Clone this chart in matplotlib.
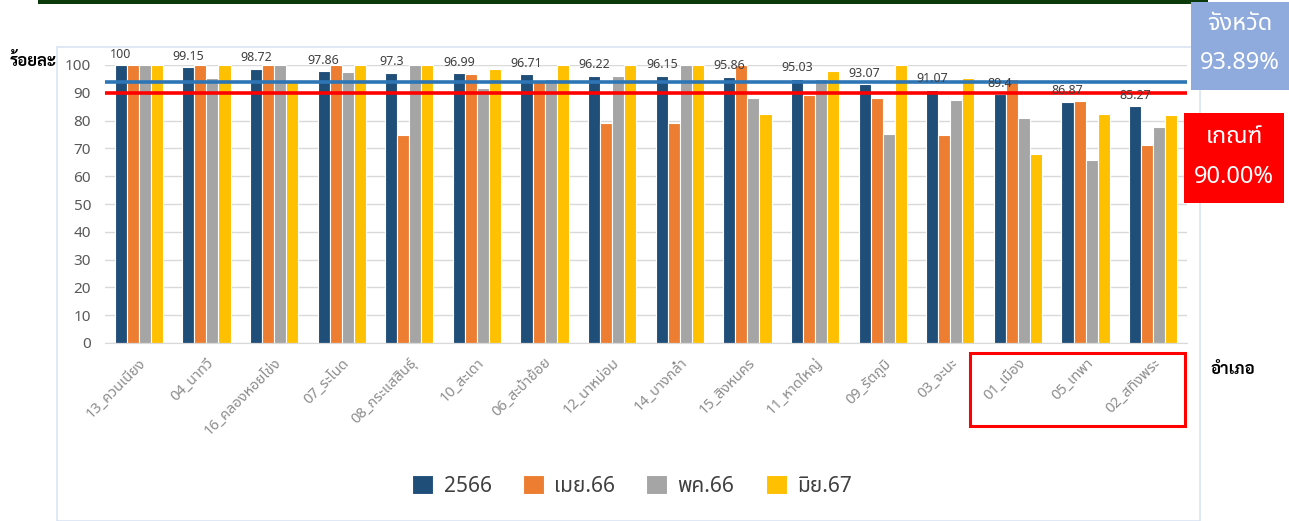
import matplotlib
matplotlib.use("Agg")
import matplotlib.pyplot as plt
import numpy as np
from matplotlib.patches import Rectangle

plt.rcParams['font.family'] = ['Noto Sans Thai', 'DejaVu Sans']

districts = ['13_ควนเนียง', '04_นาทวี', '16_คลองหอยโข่ง', '07_ระโนด', '08_กระแสสินธุ์',
             '10_สะเดา', '06_สะบ้าย้อย', '12_นาหม่อม', '14_บางกล่ำ', '15_สิงหนคร',
             '11_หาดใหญ่', '09_รัตภูมิ', '03_จะนะ', '01_เมือง', '05_เทพา', '02_สทิงพระ']
y2566 = [100, 99.15, 98.72, 97.86, 97.3, 96.99, 96.71, 96.22, 96.15, 95.86,
         95.03, 93.07, 91.07, 89.4, 86.87, 85.27]
apr66 = [100, 100, 100, 100, 74.8, 96.9, 94.6, 79.0, 79.0, 100,
         89.2, 88.3, 74.8, 95.0, 86.9, 71.2]
may66 = [100, 95.3, 100, 97.4, 100, 91.8, 95.1, 96.2, 100, 88.0,
         95.0, 75.3, 87.4, 80.8, 65.8, 77.7]
jun67 = [100, 100, 94.6, 100, 100, 98.7, 100, 100, 100, 82.5,
         97.8, 100, 95.4, 68.1, 82.5, 81.9]
series_names = ['2566', 'เมย.66', 'พค.66', 'มิย.67']
province_avg = 93.89
target = 90.00

colors = ['#1f4e79', '#ed7d31', '#a5a5a5', '#ffc000']
bold_thai = ['Sarabun', 'Noto Sans Thai', 'DejaVu Sans']

fig = plt.figure(figsize=(12.89, 5.21), dpi=100)

# frame of the chart area and the dark strip on top
fig.patches.append(Rectangle((57 / 1289, 0), 1143 / 1289, 474 / 521, transform=fig.transFigure,
                             facecolor='none', edgecolor='#dae3f3', lw=1.2))
fig.patches.append(Rectangle((38 / 1289, 1 - 4 / 521), 1170 / 1289, 4 / 521,
                             transform=fig.transFigure, facecolor='#0b3a0b', edgecolor='none'))

ax = fig.add_axes([105 / 1289, 1 - 343 / 521, 1082 / 1289, 278 / 521])
ax.set_facecolor('none')

x = np.arange(len(districts))
w = 0.178
for i, (vals, col, name) in enumerate(zip([y2566, apr66, may66, jun67], colors, series_names)):
    ax.bar(x + (i - 1.5) * w, vals, w, color=col, edgecolor='white', linewidth=0.8,
           label=name, zorder=2)

for xi, v in zip(x, y2566):
    ax.text(xi - 1.5 * w, v + 1.6, f'{v:g}', ha='center', va='bottom', fontsize=9,
            color='#404040', clip_on=False, zorder=4)

ax.axhline(province_avg, color='#2e75b6', lw=2.6, zorder=3)
ax.axhline(target, color='#ff0000', lw=2.6, zorder=3)

ax.set_xlim(-0.5, len(districts) - 0.5)
ax.set_ylim(0, 100)
ax.set_yticks(np.arange(0, 101, 10))
ax.yaxis.grid(True, color='#d9d9d9', lw=1, zorder=0)
ax.set_axisbelow(True)
for s in ['top', 'right', 'left']:
    ax.spines[s].set_visible(False)
ax.spines['bottom'].set_color('#d9d9d9')
ax.tick_params(axis='y', length=0, pad=10, labelsize=11, labelcolor='#595959')
ax.tick_params(axis='x', length=0, pad=9, labelsize=10.5, labelcolor='#8c8c8c')
ax.set_xticks(x)
ax.set_xticklabels(districts, rotation=45, ha='right', rotation_mode='anchor')

fig.text(10 / 1289, 1 - 62 / 521, 'ร้อยละ', fontsize=12, fontweight='bold', va='center',
         family=bold_thai)
fig.text(1210 / 1289, 1 - 370 / 521, 'อำเภอ', fontsize=12, fontweight='bold', va='center',
         family=bold_thai)

# highlighted districts
fig.patches.append(Rectangle((970 / 1289, 1 - 426 / 521), 215 / 1289, 73 / 521,
                             transform=fig.transFigure, fill=False, edgecolor='#ff0000', lw=2.2))

# province average and target boxes
fig.patches.append(Rectangle((1191 / 1289, 1 - 90 / 521), 98 / 1289, 88 / 521,
                             transform=fig.transFigure, facecolor='#8faadc', edgecolor='none'))
fig.text(1240 / 1289, 1 - 24 / 521, 'จังหวัด', color='white', fontsize=17, ha='center', va='center')
fig.text(1240 / 1289, 1 - 63 / 521, f'{province_avg:.2f}%', color='white', fontsize=17,
         ha='center', va='center')
fig.patches.append(Rectangle((1184 / 1289, 1 - 203 / 521), 100 / 1289, 90 / 521,
                             transform=fig.transFigure, facecolor='#ff0000', edgecolor='none'))
fig.text(1234 / 1289, 1 - 137 / 521, 'เกณฑ์', color='white', fontsize=17, ha='center', va='center')
fig.text(1234 / 1289, 1 - 177 / 521, f'{target:.2f}%', color='white', fontsize=17,
         ha='center', va='center')

fig.legend(loc='center', bbox_to_anchor=(632 / 1289, 1 - 486 / 521), ncol=4, frameon=False,
           fontsize=15, handlelength=1.0, handleheight=1.0, columnspacing=1.5,
           handletextpad=0.5, labelcolor='#404040')

fig.savefig('out.png', dpi=100)
